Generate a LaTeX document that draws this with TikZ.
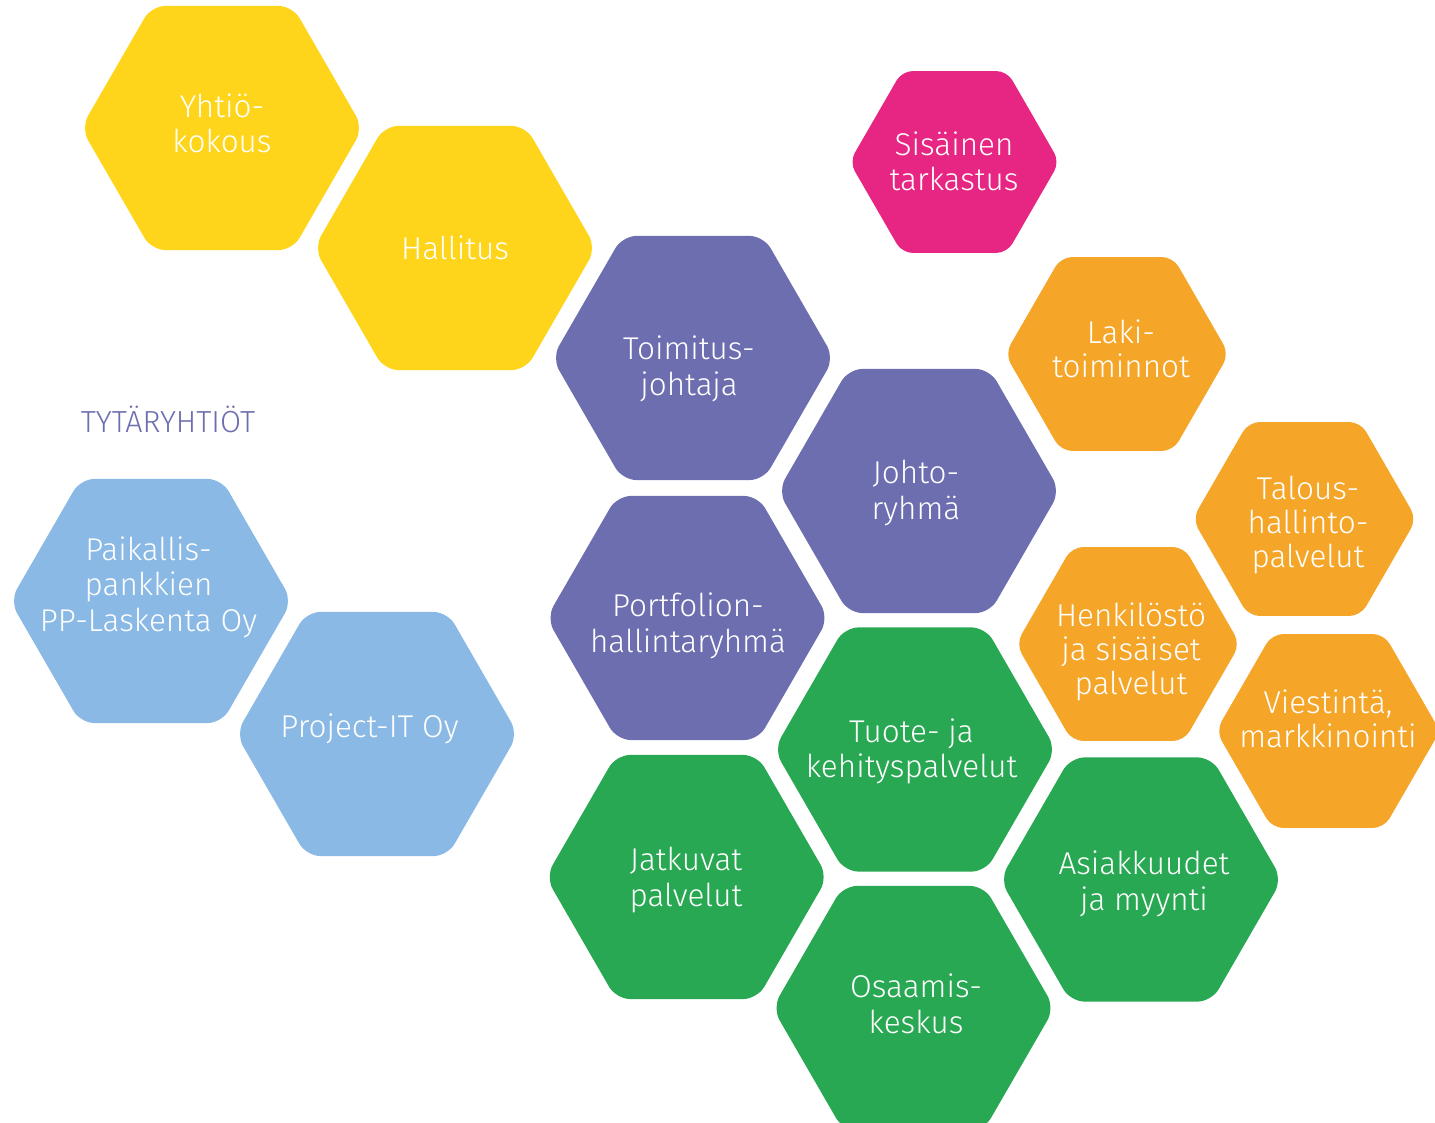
\documentclass[tikz,border=0pt]{standalone}
\usepackage{fontspec}
\IfFontExistsTF{Fira Sans Book}{\setmainfont{Fira Sans Book}}{%
  \IfFontExistsTF{Fira Sans Light}{\setmainfont{Fira Sans Light}}{\setmainfont{Fira Sans}}}
\definecolor{cyellow}{HTML}{FED51B}
\definecolor{cpink}{HTML}{E72582}
\definecolor{cpurple}{HTML}{6D6EAF}
\definecolor{corange}{HTML}{F5A528}
\definecolor{cgreen}{HTML}{28A852}
\definecolor{cblue}{HTML}{89B9E4}
\newcommand\hs{\rule[-6.5pt]{0pt}{34pt}}
\tikzset{
  hextext/.style={text=white, align=center, inner sep=0pt,
    font=\fontsize{31.5}{35.5}\selectfont},
  smalltext/.style={hextext, font=\fontsize{31.5}{34}\selectfont},
  titletext/.style={text=cpurple, inner sep=0pt, anchor=base,
    font=\fontsize{30.5}{34}\selectfont}
}
% name, cx, cy, R, colour, text position, text style, text
\newcommand\hexcell[8]{%
  \pgfmathsetmacro\hexrad{0.1*#4}%
  \fill[#5, rounded corners=\hexrad pt]
    (#2,{#3-0.866*#4}) -- ({#2+0.5*#4},{#3-0.866*#4}) -- ({#2+#4},#3)
    -- ({#2+0.5*#4},{#3+0.866*#4}) -- ({#2-0.5*#4},{#3+0.866*#4})
    -- ({#2-#4},#3) -- ({#2-0.5*#4},{#3-0.866*#4}) -- cycle;
  \node[#7] (#1) at (#6) {#8};%
}
\begin{document}
\begin{tikzpicture}[x=1pt,y=-1pt]
\useasboundingbox (0,0) rectangle (1435,1123);
\hexcell{yhtio}{222}{128}{141}{cyellow}{222,124.5}{hextext}{\hs Yhtiö-\\kokous\hs}
\hexcell{hallitus}{455}{248}{141}{cyellow}{455,249}{hextext}{\hs Hallitus\hs}
\hexcell{sisainen}{954.5}{162}{105}{cpink}{954,162.5}{hextext}{\hs Sisäinen\\tarkastus\hs}
\hexcell{toimitus}{693}{358}{141}{cpurple}{689,367}{hextext}{\hs Toimitus-\\johtaja\hs}
\hexcell{johto}{919}{491}{141}{cpurple}{916,491}{hextext}{\hs Johto-\\ryhmä\hs}
\hexcell{portfolio}{687.5}{618}{141}{cpurple}{688,624}{hextext}{\hs Portfolion-\\hallintaryhmä\hs}
\hexcell{laki}{1117}{354}{112}{corange}{1121,350}{smalltext}{\hs Laki-\\toiminnot\hs}
\hexcell{talous}{1304.5}{519}{112}{corange}{1308,523}{smalltext}{\hs Talous-\\hallinto-\\palvelut\hs}
\hexcell{henkilosto}{1128}{644}{112}{corange}{1131,650}{smalltext}{\hs Henkilöstö\\ja sisäiset\\palvelut\hs}
\hexcell{viestinta}{1328}{731}{112}{corange}{1328,720}{smalltext}{\hs Viestintä,\\markkinointi\hs}
\hexcell{tuote}{915}{749.5}{141}{cgreen}{911.5,749.5}{hextext}{\hs Tuote- ja\\kehityspalvelut\hs}
\hexcell{jatkuvat}{686.7}{877}{141}{cgreen}{686,878}{hextext}{\hs Jatkuvat\\palvelut\hs}
\hexcell{asiakkuudet}{1141}{879.5}{141}{cgreen}{1144,882}{hextext}{\hs Asiakkuudet\\ja myynti\hs}
\hexcell{osaamis}{913.5}{1008}{141}{cgreen}{916,1005}{hextext}{\hs Osaamis-\\keskus\hs}
\hexcell{paikallis}{151}{601}{141}{cblue}{148.5,585}{hextext}{\hs Paikallis-\\pankkien\\PP-Laskenta Oy\hs}
\hexcell{projectit}{377}{734}{141}{cblue}{369.5,727}{hextext}{\hs Project-IT Oy\hs}
\node[titletext] (tytar) at (168,432) {TYTÄRYHTIÖT};
\end{tikzpicture}
\end{document}
